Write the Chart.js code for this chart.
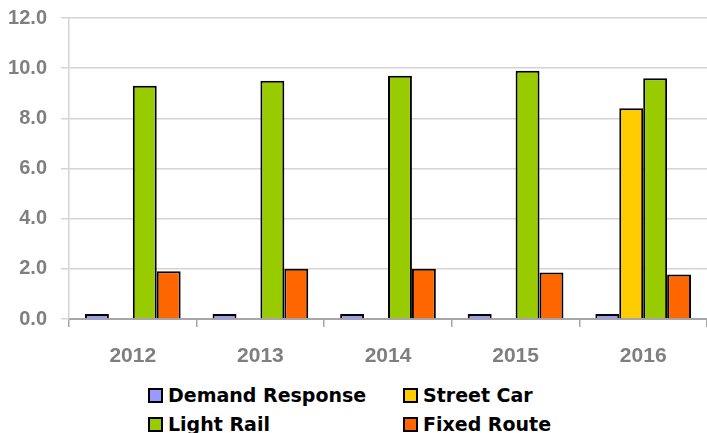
<!DOCTYPE html>
<html>
<head>
<meta charset="utf-8">
<script src="https://cdn.jsdelivr.net/npm/chart.js@4/dist/chart.umd.min.js"></script>
<style>
  body { margin: 0; background: #fff; width: 707px; height: 433px; overflow: hidden; position: relative; }
  #wrap { position: absolute; left: 0; top: -8px; width: 707px; height: 377px; }
  .legend { position: absolute; font-family: "DejaVu Sans", sans-serif; font-weight: bold; font-size: 19px; color: #000; white-space: nowrap; }
  .legend span.box { display: inline-block; width: 11px; height: 11px; border: 2px solid #000; vertical-align: top; margin-top: 4px; margin-right: 5px; }
</style>
</head>
<body>
<div id="wrap"><canvas id="chart"></canvas></div>
<div id="legend"></div>
<script>
// =====================
// Data
// =====================
const years = ["2012", "2013", "2014", "2015", "2016"];
const demandResponse = [0.2, 0.2, 0.2, 0.2, 0.2];
const streetCar = [null, null, null, null, 8.4];
const lightRail = [9.3, 9.5, 9.7, 9.9, 9.6];
const fixedRoute = [1.9, 2.0, 2.0, 1.85, 1.77];
const yTicks = [0, 2, 4, 6, 8, 10, 12];

const seriesNames = ["Demand Response", "Street Car", "Light Rail", "Fixed Route"];
const seriesColors = ["#9999ff", "#ffcc00", "#99cc00", "#ff6600"];
const seriesValues = [demandResponse, streetCar, lightRail, fixedRoute];

// -------- Chart --------
const ctx = document.getElementById("chart");

new Chart(ctx, {
  type: "bar",
  data: {
    labels: years,
    datasets: seriesValues.map((vals, i) => ({
      label: seriesNames[i],
      data: vals,
      backgroundColor: seriesColors[i],
      borderColor: "#000",
      borderWidth: 2,
      barPercentage: 1,
      categoryPercentage: 0.75
    }))
  },
  options: {
    responsive: true,
    maintainAspectRatio: false,
    animation: false,
    layout: { autoPadding: false, padding: { top: 18, right: 0, left: 0, bottom: 0 } },
    plugins: {
      legend: { display: false },
      tooltip: { enabled: false }
    },
    scales: {
      x: {
        grid: { offset: true, drawOnChartArea: false, drawTicks: true, tickLength: 8, color: "#a6a6a6", lineWidth: 1.5 },
        border: { color: "#a6a6a6", width: 2 },
        ticks: { color: "#7f7f7f", padding: 17, font: { family: "Liberation Sans", size: 21, weight: "bold" } },
        afterFit: s => { s.height = 50; }
      },
      y: {
        min: 0,
        max: 12,
        afterBuildTicks: s => { s.ticks = yTicks.map(v => ({ value: v })); },
        grid: { color: "#d4d4d4", lineWidth: 1.5, tickLength: 8 },
        border: { color: "#d4d4d4", width: 1.5 },
        ticks: {
          color: "#7f7f7f",
          padding: 14,
          font: { family: "Liberation Sans", size: 20, weight: "bold" },
          callback: v => Number(v).toFixed(1)
        },
        afterFit: s => { s.width = 69; }
      }
    }
  }
});

// -------- Legend (two aligned columns) --------
const legend = document.getElementById("legend");
const legendPos = [[148, 384], [403, 384], [148, 413], [403, 413]];
seriesNames.forEach((name, k) => {
  const el = document.createElement("div");
  el.className = "legend";
  el.style.left = legendPos[k][0] + "px";
  el.style.top = legendPos[k][1] + "px";
  el.innerHTML = `<span class="box" style="background:${seriesColors[k]}"></span>${name}`;
  legend.appendChild(el);
});
</script>
</body>
</html>
